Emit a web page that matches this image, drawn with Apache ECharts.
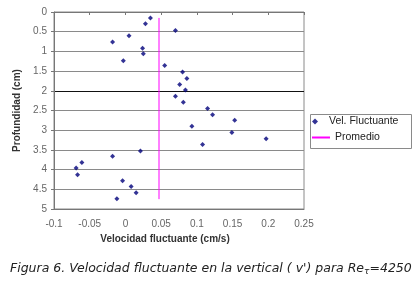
<!DOCTYPE html>
<html>
<head>
<meta charset="utf-8">
<script src="https://cdn.jsdelivr.net/npm/echarts@6/dist/echarts.min.js"></script>
<style>
html,body{margin:0;padding:0;background:#fff;}
#chart{width:417px;height:282px;}
</style>
</head>
<body>
<div id="chart"></div>
<script>
// velocidad fluctuante (cm/s) vs profundidad (cm)
var velFluct = [0.035, 0.028, 0.070, 0.005, -0.018, 0.024, 0.025, -0.003, 0.055, 0.080,
    0.086, 0.076, 0.084, 0.070, 0.081, 0.115, 0.122, 0.153, 0.093, 0.149,
    0.197, 0.108, 0.021, -0.018, -0.061, -0.069, -0.067, -0.004, 0.008, 0.015, -0.012];
var profundidad = [0.15, 0.30, 0.47, 0.60, 0.76, 0.92, 1.06, 1.24, 1.36, 1.52,
    1.69, 1.84, 1.98, 2.14, 2.29, 2.45, 2.61, 2.75, 2.90, 3.06,
    3.22, 3.36, 3.53, 3.66, 3.82, 3.96, 4.13, 4.28, 4.43, 4.59, 4.74];
var promedio = 0.047;
var promedioRango = [0.15, 4.75];

var chart = echarts.init(document.getElementById('chart'));

var puntos = [];
for (var i = 0; i < velFluct.length; i++) {
    puntos.push([velFluct[i], profundidad[i]]);
}
var lineaProm = promedioRango.map(function (d) { return [promedio, d]; });

var font = 'Liberation Sans, Arial, sans-serif';
var gridColors = ['#8a8a8a', '#8a8a8a', '#8a8a8a', '#8a8a8a', '#111', '#8a8a8a', '#8a8a8a', '#8a8a8a', '#8a8a8a', '#8a8a8a', '#8a8a8a'];
var legendText = { fontFamily: font, fontSize: 10.5, color: '#222' };

chart.setOption({
    animation: false,
    grid: {
        left: 54, top: 12, right: 113, bottom: 73,
        show: true, borderColor: '#8a8a8a', borderWidth: 1
    },
    // two legends so each entry can have its own icon size; box drawn in graphic
    legend: [{
        left: 312, top: 116,
        padding: 0,
        itemWidth: 18, itemHeight: 6,
        symbolKeepAspect: true,
        textStyle: legendText,
        data: [{ name: 'Vel. Fluctuante', icon: 'path://M3,0L6,3L3,6L0,3Z', itemStyle: { color: '#00007a', borderWidth: 0 } }]
    }, {
        left: 312, top: 132,
        padding: 0,
        itemWidth: 18, itemHeight: 2,
        symbolKeepAspect: false,
        textStyle: legendText,
        data: [{ name: 'Promedio', icon: 'rect', itemStyle: { color: '#ff00ff', borderWidth: 0 } }]
    }],
    xAxis: [{
        type: 'value',
        position: 'bottom',
        min: -0.1, max: 0.25, interval: 0.05,
        axisLine: { show: true, onZero: false, lineStyle: { color: '#777' } },
        axisTick: { show: false },
        splitLine: { show: false },
        axisLabel: { margin: 10, fontFamily: font, fontSize: 10, color: '#666' },
        name: 'Velocidad fluctuante (cm/s)',
        nameLocation: 'middle',
        nameGap: 25,
        nameTextStyle: { fontFamily: font, fontSize: 10, fontWeight: 'bold', color: '#333', padding: [0, 28, 0, 0] }
    }, {
        type: 'value',
        position: 'top',
        min: -0.1, max: 0.25, interval: 0.05,
        axisLine: { show: true, onZero: false, lineStyle: { color: '#777' } },
        axisTick: { show: true, inside: true, length: 3, lineStyle: { color: '#777' } },
        axisLabel: { show: false },
        splitLine: { show: false }
    }],
    yAxis: {
        type: 'value',
        inverse: true,
        min: 0, max: 5, interval: 0.5,
        axisLine: { show: true, onZero: false, lineStyle: { color: '#777' } },
        axisTick: { show: true, length: 3, lineStyle: { color: '#777' } },
        splitLine: { show: true, lineStyle: { color: gridColors, width: 1 } },
        axisLabel: { margin: 7, fontFamily: font, fontSize: 10, color: '#666' },
        name: 'Profundidad (cm)',
        nameLocation: 'middle',
        nameGap: 32,
        nameTextStyle: { fontFamily: font, fontSize: 10, fontWeight: 'bold', color: '#333' }
    },
    series: [{
        name: 'Vel. Fluctuante',
        type: 'scatter',
        symbol: 'diamond',
        symbolSize: 5,
        itemStyle: { color: '#00007a' },
        data: puntos
    }, {
        name: 'Promedio',
        type: 'line',
        symbol: 'none',
        lineStyle: { color: '#ff00ff', width: 1 },
        itemStyle: { color: '#ff00ff' },
        data: lineaProm
    }],
    graphic: [{
        type: 'rect',
        left: 308, top: 112,
        shape: { width: 101, height: 34 },
        style: { fill: 'none', stroke: '#8a8a8a', lineWidth: 1 }
    }, {
        type: 'text',
        left: 10, top: 262,
        style: {
            text: "Figura 6. Velocidad fluctuante en la vertical ( v') para Re{s|τ}=4250",
            fontFamily: 'DejaVu Sans, sans-serif',
            fontSize: 12.5,
            fontStyle: 'italic',
            fill: '#222',
            rich: {
                s: { fontFamily: 'DejaVu Sans, sans-serif', fontSize: 9, fontStyle: 'italic', fill: '#222', padding: [6, 0, 0, 0] }
            }
        }
    }]
});
</script>
</body>
</html>
